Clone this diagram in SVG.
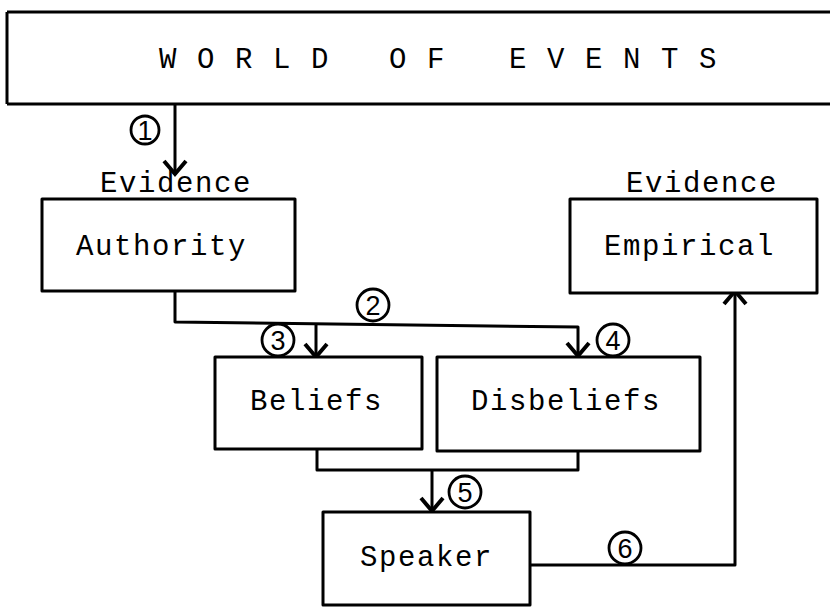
<svg xmlns="http://www.w3.org/2000/svg" width="830" height="608" viewBox="0 0 830 608">
<style>
  .box { fill: #fff; stroke: #000; stroke-width: 3; stroke-linejoin: round; }
  .t { font-family: "Liberation Mono", "DejaVu Sans Mono", monospace; font-size: 29px; letter-spacing: 1.6px; fill: #000; }
  .w { font-family: "Liberation Mono", "DejaVu Sans Mono", monospace; font-size: 29px; letter-spacing: 20.6px; fill: #000; }
  .ln { fill: none; stroke: #000; stroke-width: 3; stroke-linejoin: round; }
  .c { fill: none; stroke: #000; stroke-width: 2.8; }
  .n { font-family: "Liberation Sans", "DejaVu Sans", sans-serif; font-size: 27px; fill: #000; text-anchor: middle; }
</style>
<defs>
  <marker id="ah" markerUnits="userSpaceOnUse" viewBox="-16 -14 20 28" markerWidth="20" markerHeight="28" refX="0" refY="0" orient="auto" overflow="visible">
    <path d="M-13,-11 L0,0 L-13,11" fill="none" stroke="#000" stroke-width="4" stroke-linejoin="miter"/>
  </marker>
</defs>
<rect width="830" height="608" fill="#fff"/>

<g id="world">
  <path class="box" d="M7,12 H832 M7,104 H832 M7,12 V104" />
  <text class="w" x="159" y="68">WORLD</text>
  <text class="w" x="389" y="68">OF</text>
  <text class="w" x="509" y="68">EVENTS</text>
</g>

<g id="connectors">
  <path class="ln" d="M175,104 V174" marker-end="url(#ah)"/>
  <path class="ln" d="M175,291 V322 L578,327 V356" marker-end="url(#ah)"/>
  <path class="ln" d="M316,323 V357" marker-end="url(#ah)"/>
  <path class="ln" d="M317,448 V470 H578 V452"/>
  <path class="ln" d="M432,470 V511" marker-end="url(#ah)"/>
  <path class="ln" d="M530,565 H735 V291" marker-end="url(#ah)"/>
</g>

<g id="label1"><circle class="c" cx="145" cy="130" r="14" stroke-width="3.5"/><text class="n" x="145" y="140">1</text></g>
<g id="label2"><circle class="c" cx="373" cy="305" r="16"/><text class="n" x="373" y="315">2</text></g>
<g id="label3"><circle class="c" cx="278" cy="340" r="16"/><text class="n" x="278" y="350">3</text></g>
<g id="label4"><circle class="c" cx="613" cy="340" r="16"/><text class="n" x="613" y="350">4</text></g>
<g id="label5"><circle class="c" cx="465" cy="492" r="16"/><text class="n" x="465" y="502">5</text></g>
<g id="label6"><circle class="c" cx="625" cy="548" r="16" stroke-width="3.2"/><text class="n" x="625" y="558">6</text></g>

<g id="authority">
  <text class="t" x="100" y="192">Evidence</text>
  <rect class="box" x="42" y="199" width="253" height="92"/>
  <text class="t" x="76" y="255">Authority</text>
</g>

<g id="empirical">
  <text class="t" x="626" y="192">Evidence</text>
  <rect class="box" x="570" y="199" width="247" height="94"/>
  <text class="t" x="604" y="255">Empirical</text>
</g>

<g id="beliefs">
  <rect class="box" x="215" y="357" width="207" height="92"/>
  <text class="t" x="250" y="410">Beliefs</text>
</g>

<g id="disbeliefs">
  <rect class="box" x="437" y="357" width="263" height="94"/>
  <text class="t" x="471" y="410">Disbeliefs</text>
</g>

<g id="speaker">
  <rect class="box" x="323" y="512" width="207" height="93"/>
  <text class="t" x="360" y="566">Speaker</text>
</g>
</svg>
